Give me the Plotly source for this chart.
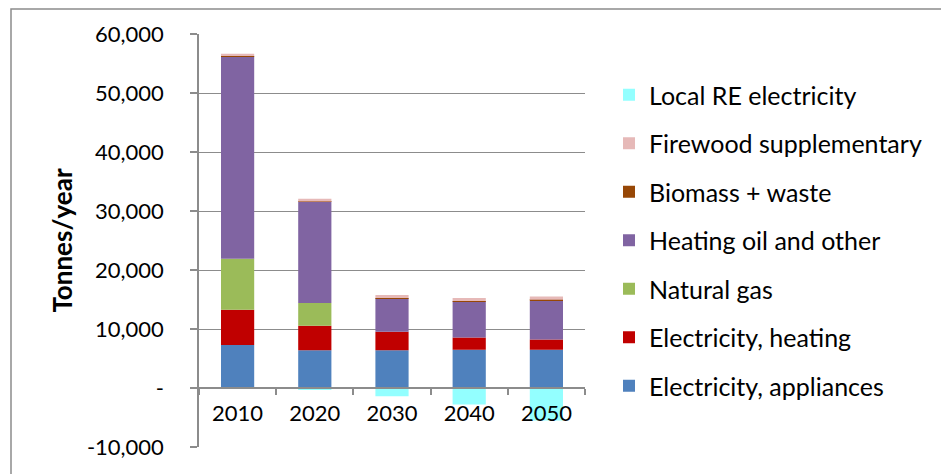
import plotly.graph_objects as go

years = ["2010", "2020", "2030", "2040", "2050"]
elec_appliances = [7300, 6400, 6400, 6500, 6500]
elec_heating = [5950, 4150, 3150, 2050, 1700]
natural_gas = [8650, 3850, 0, 0, 0]
heating_oil = [34350, 17200, 5650, 6150, 6550]
biomass_waste = [20, 20, 40, 40, 200]
firewood = [400, 450, 520, 500, 550]
local_re = [0, -300, -1400, -2800, -5500]

ytick_vals = [-10000, 0, 10000, 20000, 30000, 40000, 50000, 60000]
ytick_text = ["-10,000", "-", "10,000", "20,000", "30,000", "40,000", "50,000", "60,000"]

series = [
    ("Electricity, appliances", elec_appliances, "#4F81BD"),
    ("Electricity, heating", elec_heating, "#C00000"),
    ("Natural gas", natural_gas, "#9BBB59"),
    ("Heating oil and other", heating_oil, "#8064A2"),
    ("Biomass + waste", biomass_waste, "#974706"),
    ("Firewood supplementary", firewood, "#E6B9B8"),
    ("Local RE electricity", local_re, "#93FFFF"),
]

FONT = "Lato"
GRID = "#8C8C8C"
OFF = 8  # page body margin

fig = go.Figure()
n = len(series)
for i, (name, vals, color) in enumerate(series):
    fig.add_trace(go.Bar(
        x=years, y=vals, name=name, marker_color=color,
        marker_line_width=0, legendgroup=f"g{i}", legendrank=n - i,
    ))

W, H = 949 - OFF, 474 - OFF
L, T = 199 - OFF, 34 - OFF
PR, PB = 585 - OFF, 447 - OFF
R, B = W - PR, H - PB
pw, ph = PR - L, PB - T

def px_x(p):
    return (p - OFF - L) / pw

def px_y(p):
    return (PB - (p - OFF)) / ph

fig.update_layout(
    width=W, height=H,
    margin=dict(l=L, r=R, t=T, b=B, pad=0, autoexpand=False),
    barmode="relative",
    bargap=0.57,
    plot_bgcolor="white",
    paper_bgcolor="white",
    font=dict(family=FONT, size=22, color="#000000"),
    showlegend=True,
    legend=dict(
        traceorder="grouped",
        tracegroupgap=13,
        xref="container", yref="container",
        x=(623 - OFF - 14) / W, y=1 - (72 - OFF) / H, xanchor="left", yanchor="top",
        font=dict(family=FONT, size=25, color="#000000"),
        itemsizing="constant",
        maxheight=1,
        bgcolor="rgba(0,0,0,0)",
    ),
    xaxis=dict(
        type="category",
        anchor="free",
        position=10000 / 70000,
        automargin=False,
        showline=True, linecolor=GRID, linewidth=1.5,
        ticks="outside", ticklen=6, tickcolor=GRID, tickwidth=1.5,
        tickson="boundaries",
        showgrid=False,
        ticklabelstandoff=6,
        tickfont=dict(family=FONT, size=22, color="#000000"),
    ),
    yaxis=dict(
        range=[-10000, 60000],
        automargin=False,
        tickvals=ytick_vals, ticktext=ytick_text,
        showline=True, linecolor=GRID, linewidth=1.5,
        ticks="outside", ticklen=7, tickcolor=GRID, tickwidth=1.5,
        showgrid=True, gridcolor=GRID, gridwidth=1.3,
        zeroline=False,
        ticklabelstandoff=22,
        tickfont=dict(family=FONT, size=22, color="#000000"),
        title=dict(text="<b>Tonnes/year</b>", font=dict(family=FONT, size=26, color="#000000"), standoff=7),
    ),
    shapes=[
        dict(type="rect", xref="paper", yref="paper",
             x0=px_x(11), x1=px_x(943), y0=px_y(490), y1=px_y(OFF + 1),
             line=dict(color="#8C8C8C", width=1.5), fillcolor="rgba(0,0,0,0)", layer="below"),
    ],
)

fig.write_html("out.html")
